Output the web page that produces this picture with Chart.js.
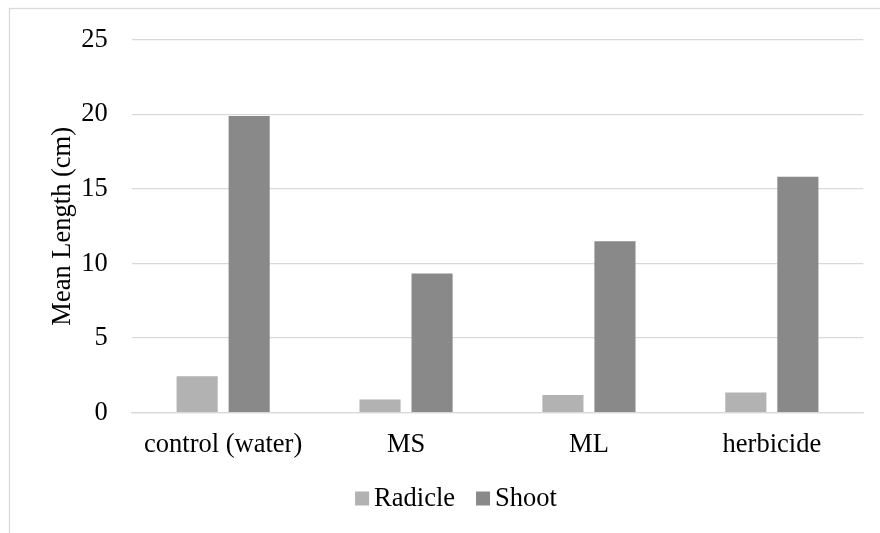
<!DOCTYPE html>
<html>
<head>
<meta charset="utf-8">
<script src="https://cdn.jsdelivr.net/npm/chart.js@4.4.1/dist/chart.umd.min.js"></script>
<style>
  html, body { margin: 0; padding: 0; background: #fff; }
  #wrap { position: relative; width: 880px; height: 533px; }
</style>
</head>
<body>
<div id="wrap"><canvas id="c" width="880" height="533"></canvas></div>
<script>
// Mean radicle and shoot length per treatment
const categories = ['control (water)', 'MS', 'ML', 'herbicide'];
const radicle = [2.45, 0.89, 1.18, 1.36];
const shoot = [19.9, 9.33, 11.49, 15.83];
const seriesNames = ['Radicle', 'Shoot'];
const seriesColors = ['#b2b2b2', '#898989'];
const yTicks = [0, 5, 10, 15, 20, 25];

const FONT = "'Liberation Serif', 'Times New Roman', serif";
const FSIZE = 26.5;
const GRID = '#d9d9d9';

// Outer frame around the chart
const framePlugin = {
  id: 'frame',
  beforeDraw(chart) {
    const ctx = chart.ctx;
    ctx.save();
    ctx.strokeStyle = GRID;
    ctx.lineWidth = 1.3;
    ctx.strokeRect(9.5, 8.5, 1000, 1000);
    ctx.restore();
  }
};

// Compact legend: small square, short gap, label
const legendPlugin = {
  id: 'compactLegend',
  afterDraw(chart) {
    const ctx = chart.ctx;
    ctx.save();
    ctx.font = FSIZE + 'px ' + FONT;
    ctx.textBaseline = 'middle';
    ctx.fillStyle = '#000';
    const box = 14, gap = 5, itemGap = 21;
    const items = chart.data.datasets.map(ds => ({
      label: ds.label, color: ds.backgroundColor, w: ctx.measureText(ds.label).width
    }));
    let total = 0;
    items.forEach((it, i) => { total += box + gap + it.w + (i ? itemGap : 0); });
    let x = 456 - total / 2;
    const cy = 499;
    items.forEach((it, i) => {
      if (i) x += itemGap;
      ctx.fillStyle = it.color;
      ctx.fillRect(x, cy - box / 2 - 0.5, box, box);
      x += box + gap;
      ctx.fillStyle = '#000';
      ctx.fillText(it.label, x, cy);
      x += it.w;
    });
    ctx.restore();
  }
};

new Chart(document.getElementById('c'), {
  type: 'bar',
  data: {
    labels: categories,
    datasets: [
      { label: seriesNames[0], data: radicle, backgroundColor: seriesColors[0] },
      { label: seriesNames[1], data: shoot, backgroundColor: seriesColors[1] }
    ]
  },
  options: {
    responsive: false,
    animation: false,
    devicePixelRatio: 1,
    categoryPercentage: 0.569,
    barPercentage: 0.79,
    layout: { padding: { top: 37.7, right: 16.7, left: 0, bottom: 0 } },
    plugins: {
      legend: { display: false },
      tooltip: { enabled: false }
    },
    scales: {
      x: {
        grid: { display: false, drawTicks: false },
        border: { display: true, color: GRID, width: 1.3 },
        ticks: { color: '#000', font: { family: FONT, size: FSIZE }, padding: 16, maxRotation: 0 },
        afterFit(scale) { scale.height = 533 - 412.7; }
      },
      y: {
        min: 0,
        max: 25,
        afterBuildTicks(scale) { scale.ticks = yTicks.map(v => ({ value: v })); },
        grid: { color: GRID, lineWidth: 1.3, drawTicks: false },
        border: { display: false },
        ticks: { color: '#000', font: { family: FONT, size: FSIZE }, padding: 24 },
        title: {
          display: true,
          text: 'Mean Length (cm)',
          color: '#000',
          font: { family: FONT, size: FSIZE },
          padding: { top: 47, bottom: 0 }
        },
        afterFit(scale) { scale.width = 131.7; }
      }
    }
  },
  plugins: [framePlugin, legendPlugin]
});
</script>
</body>
</html>
